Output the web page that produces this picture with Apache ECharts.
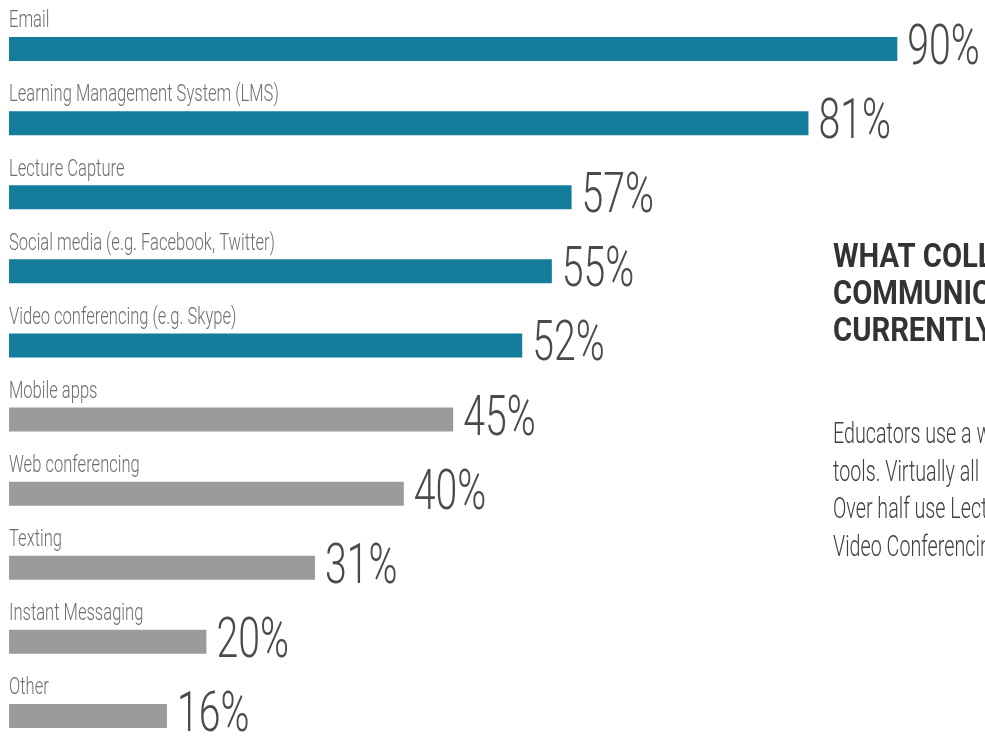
<!DOCTYPE html>
<html>
<head>
<meta charset="utf-8">
<script src="https://cdn.jsdelivr.net/npm/echarts@6/dist/echarts.min.js"></script>
<style>
  html, body { margin: 0; padding: 0; background: #fff; }
  #chart { width: 985px; height: 738px; }
</style>
</head>
<body>
<div id="chart"></div>
<script>
// Survey results: share of educators using each tool
const categories = [
  'Email',
  'Learning Management System (LMS)',
  'Lecture Capture',
  'Social media (e.g. Facebook, Twitter)',
  'Video conferencing (e.g. Skype)',
  'Mobile apps',
  'Web conferencing',
  'Texting',
  'Instant Messaging',
  'Other'
];
const values = [90, 81, 57, 55, 52, 45, 40, 31, 20, 16];
// the five most used tools are highlighted
const highlighted = [true, true, true, true, true, false, false, false, false, false];

const headingLines = [
  'WHAT COLLABORATION AND',
  'COMMUNICATION TOOLS DO YOU',
  'CURRENTLY USE?'
];
const bodyLines = [
  'Educators use a wide variety of communication',
  'tools. Virtually all use Email and their LMS.',
  'Over half use Lecture Capture, Social Media and',
  'Video Conferencing.'
];

const TEAL = '#137d9b';
const GREY = '#9b9b9b';
const FONT = 'Roboto, "Liberation Sans Narrow", sans-serif';

const chart = echarts.init(document.getElementById('chart'));

const barData = values.map((v, i) => ({
  value: v,
  itemStyle: { color: highlighted[i] ? TEAL : GREY }
}));
const labelData = values.map((v, i) => [v, i]);

function renderLabels(params, api) {
  const idx = api.value(1);
  const val = api.value(0);
  const start = api.coord([0, idx]);
  const end = api.coord([val, idx]);
  const barTop = start[1] - 12;
  return {
    type: 'group',
    children: [
      {
        type: 'text',
        x: start[0],
        y: barTop - 4,
        scaleX: 0.72,
        style: {
          text: categories[idx],
          x: 0, y: 0,
          fill: '#6e6e6e',
          font: '300 23px ' + FONT,
          textAlign: 'left',
          textVerticalAlign: 'bottom'
        }
      },
      {
        type: 'text',
        x: end[0] + 10,
        y: end[1] + 1,
        scaleX: 0.7,
        style: {
          text: val + '%',
          x: 0, y: 0,
          fill: '#4a4a4a',
          font: '300 56px ' + FONT,
          textAlign: 'left',
          textVerticalAlign: 'middle'
        }
      }
    ]
  };
}

const graphics = [];
headingLines.forEach((t, i) => {
  graphics.push({
    type: 'text',
    x: 833, y: 241 + i * 37,
    scaleX: 0.86,
    style: {
      text: t, x: 0, y: 0,
      fill: '#333333',
      font: 'bold 34px ' + FONT,
      textAlign: 'left',
      textVerticalAlign: 'top'
    }
  });
});
bodyLines.forEach((t, i) => {
  graphics.push({
    type: 'text',
    x: 833, y: 436 + i * 37.6,
    scaleX: 0.68,
    style: {
      text: t, x: 0, y: 0,
      fill: '#404040',
      font: '300 29px ' + FONT,
      textAlign: 'left',
      textVerticalAlign: 'middle'
    }
  });
});

chart.setOption({
  animation: false,
  grid: {
    left: 9, top: 12, width: 987, height: 741,
    containLabel: false,
    outerBoundsMode: 'none'
  },
  xAxis: {
    type: 'value', min: 0, max: 100,
    show: false
  },
  yAxis: {
    type: 'category', data: categories, inverse: true,
    show: false
  },
  graphic: graphics,
  series: [
    {
      type: 'bar',
      data: barData,
      barWidth: 24,
      silent: true
    },
    {
      type: 'custom',
      data: labelData,
      renderItem: renderLabels,
      silent: true,
      z: 5
    }
  ]
});
</script>
</body>
</html>
